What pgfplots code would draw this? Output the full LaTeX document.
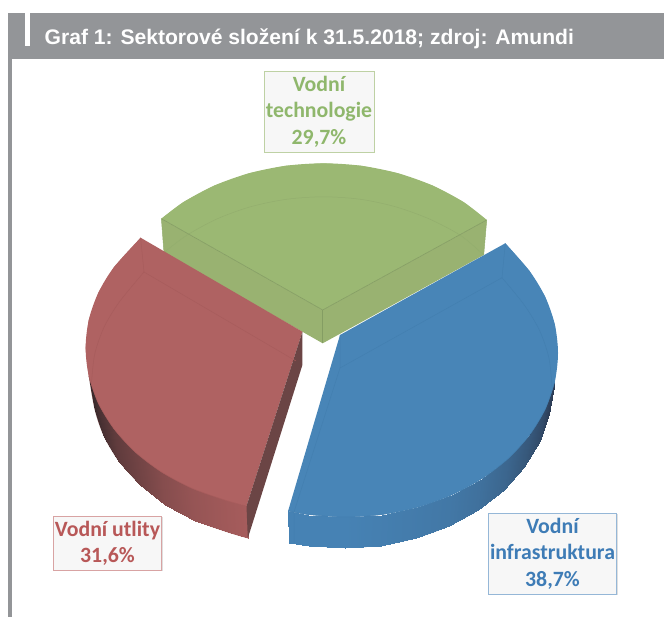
\documentclass[border=0pt]{standalone}
\usepackage{fontspec}
\setmainfont{Liberation Sans}
\newfontfamily\lblfont{Carlito}
\usepackage{pgfplots}
\pgfplotsset{compat=1.18}
\usetikzlibrary{shadows}
\definecolor{hdr}{RGB}{147,149,152}
\definecolor{gTop}{RGB}{155,184,115}
\definecolor{gWall}{RGB}{153,178,113}
\definecolor{gLine}{RGB}{147,174,110}
\definecolor{rTop}{RGB}{175,98,98}
\definecolor{rSide}{RGB}{107,69,69}
\definecolor{rLine}{RGB}{167,92,92}
\definecolor{bTop}{RGB}{72,133,183}
\definecolor{bLine}{RGB}{67,127,176}
\definecolor{gTxt}{RGB}{143,183,108}
\definecolor{rTxt}{RGB}{184,88,88}
\definecolor{bTxt}{RGB}{62,124,182}
\begin{document}
\begin{tikzpicture}
\begin{axis}[
  scale only axis, width=664pt, height=617pt,
  xmin=0, xmax=664, ymin=0, ymax=617, y dir=reverse,
  axis lines=none, ticks=none,
  point meta min=0, point meta max=30,
  colormap={wall}{rgb255(0)=(58,42,44) rgb255(10)=(166,92,92) rgb255(20)=(44,60,85) rgb255(30)=(70,130,180)},
]
% header
\addplot[fill=hdr, draw=none] coordinates {(8,13.5) (664,13.5) (664,58.7) (8,58.7)} --cycle;
\addplot[fill=hdr, draw=none] coordinates {(8,58) (12,58) (12,617) (8,617)} --cycle;
\addplot[fill=white, draw=none] coordinates {(25,13.5) (29.5,13.5) (29.5,46.5) (25,46.5)} --cycle;

% green slice
\addplot[fill=gTop, draw=none] coordinates {
 (161.4,218.7) (183.4,202.1) (214.5,185.5) (248.9,173.3) (285.6,165.8) (323.5,163.3)
 (361.4,165.8) (398.1,173.3) (432.5,185.5) (463.6,202.1) (486.7,220) (322.7,310)} --cycle;
\addplot[fill=gTop, draw=none, smooth] coordinates {
 (161.4,218.7) (183.4,202.1) (214.5,185.5) (248.9,173.3) (285.6,165.8) (323.5,163.3)
 (361.4,165.8) (398.1,173.3) (432.5,185.5) (463.6,202.1) (486.7,220)};
\addplot[fill=gWall, draw=none] coordinates {
 (161.4,218.7) (322.7,310) (486.7,220) (483.7,255) (322.7,343.3) (164,253)} --cycle;
\addplot[gLine, line width=0.5pt, smooth] coordinates {(164,252.5) (186.3,235.6) (216.8,219) (250.4,206.8) (286.4,199.3) (323.5,196.8)
 (360.6,199.3) (395.6,206.8) (429.4,219) (460.8,235.6) (483.7,255)};
\addplot[gLine!90!black, line width=0.6pt] coordinates {(161.4,218.7) (322.7,310) (486.7,220)};
\addplot[gLine!90!black, line width=0.6pt] coordinates {(322.7,310) (322.7,343.3)};
\addplot[gLine, line width=0.5pt] coordinates {(161.4,218.7) (164,253)};
\addplot[gLine, line width=0.5pt] coordinates {(486.7,220) (483.7,255)};

% wall bases: smooth silhouette under the gradient
\addplot[fill={rgb,255:red,98;green,62;blue,62}, draw=none, smooth] coordinates {(88.8,376.2) (94.7,409.8) (104,436.7) (119.3,462) (140,484.9)};
\addplot[fill={rgb,255:red,150;green,85;blue,85}, draw=none, smooth] coordinates {(140,484.9) (165.5,504.6) (195.1,520.6) (227.8,532.4) (247.8,538.3)};
\addplot[fill={rgb,255:red,50;green,72;blue,102}, draw=none, smooth] coordinates {(554.8,381.5) (548.9,414.2) (539.6,441.4) (524.3,467) (503.6,490.2)};
\addplot[fill={rgb,255:red,68;green,122;blue,168}, draw=none, smooth] coordinates {(503.6,490.2) (478.1,510.1) (448.5,526.3) (415.8,538.2) (380.9,545.5) (345,548) (309.1,545.5) (288.9,542.7)};

% wall gradients
\addplot[patch, patch type=rectangle, shader=interp, point meta=explicit] table[x=x,y=y,meta=c] {
x y c
88.8 376.2 0
98.4 403.4 1.5
104 436.7 1.5
94.7 409.8 0
98.4 403.4 1.5
114.1 429 3.5
119.3 462 3.5
104 436.7 1.5
114.1 429 3.5
135.4 452.2 5
140 484.9 5
119.3 462 3.5
135.4 452.2 5
161.7 472.1 7
165.5 504.6 7
140 484.9 5
161.7 472.1 7
192.1 488.3 8.5
195.1 520.6 8.5
165.5 504.6 7
192.1 488.3 8.5
225.8 500.3 9.5
227.8 532.4 9.5
195.1 520.6 8.5
225.8 500.3 9.5
246.5 506 10
247.8 538.3 10
227.8 532.4 9.5
554.8 381.5 20
545.2 409.1 22
539.6 441.4 22
548.9 414.2 20
545.2 409.1 22
529.5 435 24
524.3 467 24
539.6 441.4 22
529.5 435 24
508.2 458.5 26
503.6 490.2 26
524.3 467 24
508.2 458.5 26
481.9 478.6 27.5
478.1 510.1 27.5
503.6 490.2 26
481.9 478.6 27.5
451.5 495 28.5
448.5 526.3 28.5
478.1 510.1 27.5
451.5 495 28.5
417.8 507.2 29
415.8 538.2 29
448.5 526.3 28.5
417.8 507.2 29
382.1 514.5 29.5
380.9 545.5 29.5
415.8 538.2 29
382.1 514.5 29.5
345 517 30
345 548 30
380.9 545.5 29.5
345 517 30
308 514.5 30
309.1 545.5 30
345 548 30
308 514.5 30
288.1 511 30
288.9 542.7 30
309.1 545.5 30
};

% blue top face
\addplot[fill=bTop, draw=none] coordinates {
 (340,335) (505.3,243.3) (529.5,271) (545.2,296.9) (554.8,324.5) (558,353) (554.8,381.5) (545.2,409.1)
 (529.5,435) (508.2,458.5) (481.9,478.6) (451.5,495) (417.8,507.2) (382.1,514.5) (345,517) (308,514.5) (288.1,511)} --cycle;
\addplot[fill=bTop, draw=none, smooth] coordinates {
 (505.3,243.3) (529.5,271) (545.2,296.9) (554.8,324.5) (558,353) (554.8,381.5) (545.2,409.1)
 (529.5,435) (508.2,458.5) (481.9,478.6) (451.5,495) (417.8,507.2) (382.1,514.5) (345,517) (308,514.5) (288.1,511)};
\addplot[bLine, line width=0.5pt] coordinates {(340,335) (340,368) (502,277.7) (505.3,243.3)};
\addplot[bLine, line width=0.5pt] coordinates {(340,368) (294,512) (294,543)};
\addplot[bLine, line width=0.5pt, smooth] coordinates {(502,277.7) (524.3,305) (539.6,330.6) (548.9,357.8) (552,386)};
\addplot[bLine, line width=0.5pt, smooth] coordinates {(554.8,381.5) (545.2,409.1) (529.5,435) (508.2,458.5) (481.9,478.6) (451.5,495) (417.8,507.2) (382.1,514.5) (345,517) (308,514.5) (288.1,511)};

% red top face
\addplot[fill=rTop, draw=none] coordinates {
 (302.4,331.7) (140.6,237.7) (135.4,243.8) (114.1,267) (98.4,292.6) (88.8,319.8) (85.6,348) (88.8,376.2) (98.4,403.4)
 (114.1,429) (135.4,452.2) (161.7,472.1) (192.1,488.3) (225.8,500.3) (246.5,506)} --cycle;
\addplot[fill=rTop, draw=none, smooth] coordinates {
 (140.6,237.7) (114.1,267) (98.4,292.6) (88.8,319.8) (85.6,348) (88.8,376.2) (98.4,403.4)
 (114.1,429) (135.4,452.2) (161.7,472.1) (192.1,488.3) (225.8,500.3) (246.5,506)};
\addplot[fill=rSide, draw=none] coordinates {(302.4,331.7) (302.4,365) (247.8,538.3) (246.5,506)} --cycle;
\addplot[rLine, line width=0.5pt] coordinates {(140.6,237.7) (144,272) (296,361)};
\addplot[rLine, line width=0.5pt, smooth] coordinates {(144,272) (119.3,302) (104,327.3) (94.7,354.2) (91.6,382)};
\addplot[rLine, line width=0.5pt, smooth] coordinates {(88.8,376.2) (98.4,403.4) (114.1,429) (135.4,452.2) (161.7,472.1) (192.1,488.3) (225.8,500.3) (246.5,506)};

% labels
\node[draw=gTop!65, line width=1pt, fill=black!3, minimum width=110pt, minimum height=81pt, inner sep=0pt, align=center,
  text=gTxt, drop shadow={shadow xshift=1pt, shadow yshift=-1pt, opacity=.25}, font={\lblfont\bfseries\fontsize{21.8}{26.5}\selectfont}]
  at (axis cs:319,111.7) {Vodní\\technologie\\29,7\%};
\node[draw=rTxt!55, line width=1pt, fill=black!3, minimum width=108pt, minimum height=54pt, inner sep=0pt, align=center,
  text=rTxt, drop shadow={shadow xshift=1pt, shadow yshift=-1pt, opacity=.25}, font={\lblfont\bfseries\fontsize{21.8}{26.5}\selectfont}]
  at (axis cs:107.5,543.2) {Vodní utlity\\31,6\%};
\node[draw=bTxt!55, line width=1pt, fill=black!3, minimum width=128pt, minimum height=81pt, inner sep=0pt, align=center,
  text=bTxt, drop shadow={shadow xshift=1pt, shadow yshift=-1pt, opacity=.25}, font={\lblfont\bfseries\fontsize{21.8}{26.5}\selectfont}]
  at (axis cs:552.5,553.8) {Vodní\\infrastruktura\\38,7\%};
% title
\node[anchor=base west, inner sep=0pt, text=white, font={\bfseries\fontsize{21.1}{24}\selectfont}] at (axis cs:44.5,45) {Graf 1: Sektorové složení k 31.5.2018; zdroj: Amundi};
\end{axis}
\path (current axis.south west) rectangle (current axis.north east);
\end{tikzpicture}
\end{document}
